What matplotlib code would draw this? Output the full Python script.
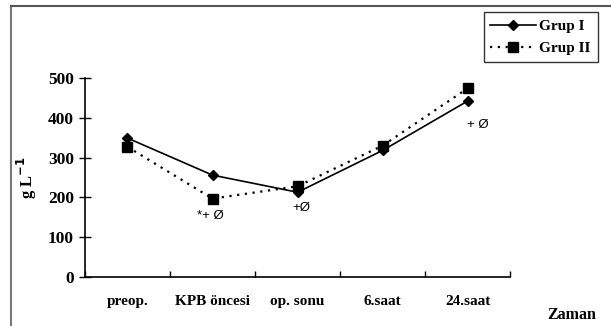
import matplotlib
matplotlib.use("Agg")
import matplotlib.pyplot as plt
from matplotlib.lines import Line2D

categories = ["preop.", "KPB öncesi", "op. sonu", "6.saat", "24.saat"]
grup1 = [349, 256, 213, 318, 442]
grup2 = [327, 197, 228, 330, 474]
annotations = ["", "*+ Ø", "+Ø", "", "+ Ø"]
yticks = [0, 100, 200, 300, 400, 500]

serif = "Liberation Serif"
fig = plt.figure(figsize=(6.11, 3.26), dpi=100)
ax = fig.add_axes([0.139, 0.150, 0.696, 0.611])

x = list(range(len(categories)))
ax.plot(x, grup1, color="black", lw=1.2, marker="D", ms=5, label="Grup I")
ax.plot(x, grup2, color="black", lw=1.6, ls=(0, (1, 2.5)), marker="s", ms=6.5, label="Grup II")

ax.set_xlim(-0.5, len(categories) - 0.5)
ax.set_ylim(0, 500)
ax.set_yticks(yticks)
ax.set_yticklabels([str(v) for v in yticks], fontfamily=serif, fontweight="bold", fontsize=12.5)
ax.set_xticks([i - 0.5 for i in range(len(categories) + 1)])
ax.set_xticklabels([])
ax.set_xticks(x, minor=True)
ax.set_xticklabels(categories, minor=True, fontfamily=serif, fontweight="bold", fontsize=11)
ax.tick_params(axis="x", which="minor", length=0, pad=13)
ax.tick_params(axis="x", which="major", direction="in", length=4, width=1)
ax.tick_params(axis="y", direction="inout", length=8, width=1, pad=4)
for s in ["top", "right"]:
    ax.spines[s].set_visible(False)
for s in ["left", "bottom"]:
    ax.spines[s].set_linewidth(1.2)

offsets = [0, (-0.02, -44), (0.05, -40), 0, (0.12, -60)]
for i, t in enumerate(annotations):
    if t:
        yv = min(grup1[i], grup2[i])
        ax.annotate(t, (i, yv), xytext=(i + offsets[i][0], yv + offsets[i][1]),
                    textcoords="data", ha="center", va="center",
                    fontfamily="Liberation Sans", fontsize=9.5)

ax.set_ylabel("g L$^{\\mathbf{-1}}$", fontfamily=serif, fontweight="bold", fontsize=12, labelpad=6)
fig.text(0.936, 0.02, "Zaman", fontfamily=serif, fontweight="bold", fontsize=11.5, ha="center")

leg = fig.legend(handles=[
    Line2D([], [], color="black", lw=1.2, marker="D", ms=5),
    Line2D([], [], color="black", lw=1.6, ls=(0, (1, 2.5)), marker="s", ms=6.5)],
    labels=["Grup I", "Grup II"], loc="upper right", bbox_to_anchor=(0.978, 0.962),
    prop={"family": serif, "weight": "bold", "size": 11}, frameon=True, fancybox=False,
    edgecolor="black", handlelength=3.0, borderpad=0.45, labelspacing=0.55, handletextpad=0.2,
    borderaxespad=0)
leg.get_frame().set_linewidth(1.0)

fig.add_artist(Line2D([0.018, 0.018], [0.0, 0.982], color="#777777", lw=1.5, transform=fig.transFigure))
fig.add_artist(Line2D([0.018, 1.0], [0.982, 0.982], color="#555555", lw=1.5, transform=fig.transFigure))

fig.savefig("out.png", dpi=100)
